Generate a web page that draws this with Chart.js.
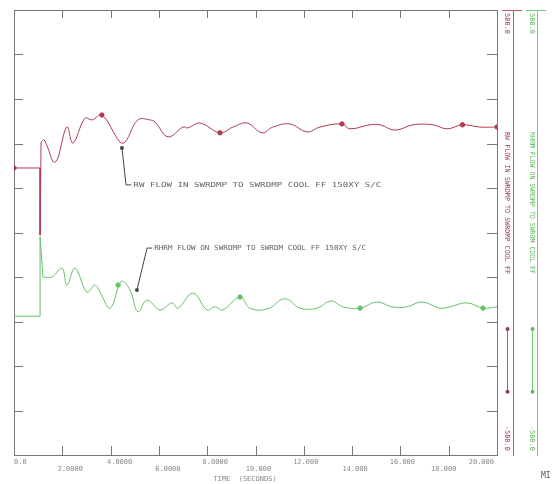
<!DOCTYPE html>
<html>
<head>
<meta charset="utf-8">
<script src="https://cdn.jsdelivr.net/npm/chart.js@4.4.1/dist/chart.umd.min.js"></script>
<style>
  html, body { margin: 0; padding: 0; background: #fff; }
  canvas { display: block; }
</style>
</head>
<body>
<canvas id="plot" width="553" height="484"></canvas>
<script>
// tick labels on the time axis
const timeTicks = [0, 2, 4, 6, 8, 10, 12, 14, 16, 18, 20];
const timeLabels = ['0.0', '2.0000', '4.0000', '6.0000', '8.0000', '10.000', '12.000', '14.000', '16.000', '18.000', '20.000'];
const flowTicks = [-500, -400, -300, -200, -100, 0, 100, 200, 300, 400, 500];

// RW flow (red) - initial step then oscillation
const redStepTime = [0, 1.08, 1.08, 1.12];
const redStepFlow = [145, 145, -6, 203];
const redTime = [1.12, 1.25, 1.70, 2.19, 2.44, 2.94, 3.23, 3.64, 4.39, 4.60, 5.13, 5.63, 5.84, 6.38, 7.00, 7.20, 7.70,
  8.53, 9.07, 9.65, 10.27, 10.72, 11.43, 12.13, 12.67, 13.58, 13.91, 14.74, 15.16, 15.78, 16.52, 17.35, 17.93, 18.57, 19.28, 20];
const redFlow = [203, 208, 158, 237, 201, 257, 253, 264, 203, 203, 253, 253, 248, 215, 237, 235, 246,
  224, 237, 246, 224, 237, 244, 226, 237, 244, 233, 242, 242, 230, 242, 242, 233, 242, 237, 237];
const redMarkTime = [0, 3.64, 8.53, 13.58, 18.57, 20];
const redMarkFlow = [145, 264, 224, 244, 242, 237];

// RHRM flow (green)
const greenStepTime = [0, 1.08, 1.08, 1.20];
const greenStepFlow = [-188, -188, -10, -100];
const greenTime = [1.20, 1.57, 1.99, 2.19, 2.53, 3.02, 3.35, 3.56, 3.98, 4.45, 4.80, 5.13, 5.51, 6.05, 6.54, 6.79, 7.41,
  7.99, 8.32, 8.65, 9.36, 9.77, 10.48, 11.22, 11.84, 12.55, 13.13, 13.62, 14.33, 15.03, 15.65, 16.27, 16.89, 17.64,
  18.05, 18.76, 19.42, 20];
const greenFlow = [-100, -100, -80, -118, -80, -134, -118, -134, -170, -110, -129, -178, -152, -174, -158, -170, -136,
  -174, -167, -174, -145, -170, -172, -149, -170, -170, -154, -167, -170, -156, -167, -167, -156, -170,
  -167, -158, -170, -167];
const greenMarkTime = [4.31, 9.36, 14.33, 19.42];
const greenMarkFlow = [-118, -145, -170, -170];

// leader lines: marker point, elbow, text
const redNote = { text: 'RW FLOW IN SWRDMP TO SWRDMP COOL FF 150XY S/C', pts: [[4.47, 190], [4.64, 107], [4.86, 107]], width: 248 };
const greenNote = { text: 'RHRM FLOW ON SWRDMP TO SWRDM COOL FF 150XY S/C', pts: [[5.09, -129], [5.51, -35], [5.72, -35]], width: 212 };

const RED = '#b03c50';
const GREEN = '#66c266';
const AXIS = '#777';

const pairs = (t, v) => t.map((x, i) => ({ x, y: v[i] }));

const frame = {
  id: 'frame',
  beforeDatasetsDraw(chart) {
    const { ctx, chartArea: a, scales: { x, y } } = chart;
    ctx.save();
    ctx.strokeStyle = AXIS;
    ctx.lineWidth = 1;
    ctx.strokeRect(a.left + 0.5, a.top + 0.5, a.width, a.height);
    ctx.beginPath();
    timeTicks.forEach(v => {
      const px = Math.round(x.getPixelForValue(v)) + 0.5;
      ctx.moveTo(px, a.bottom); ctx.lineTo(px, a.bottom - 9);
      ctx.moveTo(px, a.top); ctx.lineTo(px, a.top + 8);
    });
    flowTicks.forEach(v => {
      const py = Math.round(y.getPixelForValue(v)) + 0.5;
      ctx.moveTo(a.left, py); ctx.lineTo(a.left + 9, py);
      ctx.moveTo(a.right, py); ctx.lineTo(a.right - 10, py);
    });
    ctx.stroke();

    // time labels, alternating rows
    ctx.fillStyle = '#888';
    ctx.font = '7px "DejaVu Sans Mono", monospace';
    ctx.textBaseline = 'middle';
    const offs = [0, 8, 9, 9, 8, 3, 2, 3, 2, -5, 0];
    timeTicks.forEach((v, i) => {
      const px = x.getPixelForValue(v);
      const py = i % 2 === 0 ? a.bottom + 7 : a.bottom + 14;
      if (i === 0) { ctx.textAlign = 'left'; ctx.fillText(timeLabels[i], px, py); }
      else if (i === timeTicks.length - 1) { ctx.textAlign = 'right'; ctx.fillText(timeLabels[i], px - 3, py); }
      else { ctx.textAlign = 'center'; ctx.fillText(timeLabels[i], px + offs[i], py); }
    });
    ctx.textAlign = 'center';
    ctx.fillText('TIME  (SECONDS)', 245, a.bottom + 24);
    ctx.restore();
  },
  afterDraw(chart) {
    const { ctx, chartArea: a, scales: { x, y } } = chart;
    ctx.save();
    ctx.font = '7px "DejaVu Sans Mono", monospace';
    ctx.textBaseline = 'middle';

    // annotations
    [redNote, greenNote].forEach(n => {
      const p = n.pts.map(q => [x.getPixelForValue(q[0]), y.getPixelForValue(q[1])]);
      ctx.strokeStyle = '#444';
      ctx.fillStyle = '#444';
      ctx.lineWidth = 1;
      ctx.beginPath();
      ctx.moveTo(p[0][0], p[0][1]);
      ctx.lineTo(p[1][0], p[1][1]);
      ctx.lineTo(p[2][0], p[2][1]);
      ctx.stroke();
      ctx.beginPath();
      ctx.arc(p[0][0], p[0][1], 2, 0, Math.PI * 2);
      ctx.fill();
      const w = ctx.measureText(n.text).width;
      ctx.save();
      ctx.translate(p[2][0] + 2, p[2][1]);
      ctx.scale(n.width / w, 1);
      ctx.fillStyle = '#666';
      ctx.textAlign = 'left';
      ctx.fillText(n.text, 0, 0);
      ctx.restore();
    });

    // right side axes
    const axes = [
      { x: 513, tx: 507, color: '#c05a6a', text: '#9a3a4a', title: 'RW FLOW IN SWRDMP TO SWRDMP COOL FF' },
      { x: 537, tx: 532, color: '#6fd06f', text: '#5cb85c', title: 'RHRM FLOW ON SWRDMP TO SWRDM COOL FF' }
    ];
    axes.forEach(ax => {
      ctx.strokeStyle = ax.color;
      ctx.lineWidth = 1;
      ctx.beginPath();
      ctx.moveTo(ax.x + 0.5, a.top);
      ctx.lineTo(ax.x + 0.5, a.bottom + 1);
      ctx.moveTo(ax.x - 11, a.top + 0.5);
      ctx.lineTo(ax.x + 9, a.top + 0.5);
      ctx.stroke();
      // scale indicator
      const y1 = y.getPixelForValue(-217), y2 = y.getPixelForValue(-358);
      ctx.beginPath();
      ctx.moveTo(ax.tx + 0.5, y1);
      ctx.lineTo(ax.tx + 0.5, y2);
      ctx.stroke();
      ctx.fillStyle = ax.text;
      [y1, y2].forEach(py => { ctx.beginPath(); ctx.arc(ax.tx + 0.5, py, 2, 0, Math.PI * 2); ctx.fill(); });

      ctx.save();
      ctx.translate(ax.tx, 0);
      ctx.rotate(Math.PI / 2);
      ctx.font = '7px "DejaVu Sans Mono", monospace';
      ctx.textAlign = 'left';
      ctx.fillText('500.0', a.top + 3, 0);
      ctx.textAlign = 'right';
      ctx.fillText('-500.0', a.bottom - 4, 0);
      const w = ctx.measureText(ax.title).width;
      ctx.translate(132, 0);
      ctx.scale(142 / w, 1);
      ctx.textAlign = 'left';
      ctx.fillText(ax.title, 0, 0);
      ctx.restore();
    });

    ctx.fillStyle = '#555';
    ctx.font = '8px "DejaVu Sans Mono", monospace';
    ctx.textAlign = 'left';
    ctx.fillText('MI', 541, 476);
    ctx.restore();
  }
};

new Chart(document.getElementById('plot'), {
  type: 'line',
  data: {
    datasets: [
      { data: pairs(redStepTime, redStepFlow), borderColor: RED, tension: 0 },
      { data: pairs(redTime, redFlow), borderColor: RED, tension: 0.4 },
      { data: pairs(greenStepTime, greenStepFlow), borderColor: GREEN, tension: 0 },
      { data: pairs(greenTime, greenFlow), borderColor: GREEN, tension: 0.4 },
      { type: 'scatter', data: pairs(redMarkTime, redMarkFlow), backgroundColor: RED, borderColor: RED, pointRadius: 2.2 },
      { type: 'scatter', data: pairs(greenMarkTime, greenMarkFlow), backgroundColor: GREEN, borderColor: GREEN, pointRadius: 2.2 }
    ]
  },
  options: {
    responsive: false,
    animation: false,
    layout: { padding: { left: 14, top: 10, right: 56, bottom: 29 } },
    elements: { point: { radius: 0 }, line: { borderWidth: 1 } },
    plugins: { legend: { display: false }, tooltip: { enabled: false } },
    scales: {
      x: { type: 'linear', min: 0, max: 20, display: false },
      y: { type: 'linear', min: -500, max: 500, display: false }
    }
  },
  plugins: [frame]
});
</script>
</body>
</html>
